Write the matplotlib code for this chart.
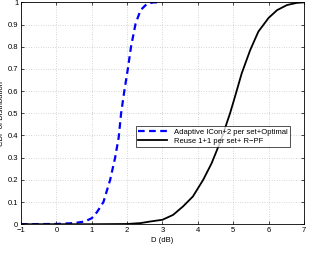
import numpy as np
import matplotlib.pyplot as plt

plt.rcParams['font.family'] = ['Liberation Sans', 'DejaVu Sans']

# CDF curves
adaptive_x = [-1, 0, 0.5, 0.8, 1.0, 1.15, 1.33, 1.52, 1.66, 1.76, 1.83, 1.92, 2.02, 2.11, 2.24, 2.38, 2.57, 2.75, 2.97]
adaptive_y = [0, 0.001, 0.005, 0.012, 0.027, 0.055, 0.10, 0.20, 0.30, 0.39, 0.50, 0.60, 0.70, 0.80, 0.905, 0.965, 0.995, 1.0, 1.0]

reuse_x = [-1, 1.0, 2.0, 2.38, 2.65, 3.0, 3.3, 3.58, 3.86, 4.15, 4.39, 4.58, 4.72, 4.91, 5.05, 5.24, 5.48, 5.71, 6.0, 6.24, 6.52, 6.8, 7.0]
reuse_y = [0, 0, 0.001, 0.005, 0.012, 0.02, 0.042, 0.08, 0.125, 0.2, 0.275, 0.35, 0.41, 0.5, 0.575, 0.68, 0.785, 0.868, 0.93, 0.965, 0.988, 0.998, 1.0]

labels = ['Adaptive ICon+2 per set+Optimal', 'Reuse 1+1 per set+ R\u2212PF']

fig = plt.figure(figsize=(3.14, 2.65), dpi=100)
ax = fig.add_axes([0.067, 0.154, 0.901, 0.837])

ax.plot(adaptive_x, adaptive_y, color='#0000ff', linestyle='--', linewidth=1.6, dashes=(3, 2), label=labels[0])
ax.plot(reuse_x, reuse_y, color='black', linewidth=1.3, label=labels[1])

ax.set_xlim(-1, 7)
ax.set_ylim(0, 1)
ax.set_xticks(np.arange(-1, 8, 1))
ax.set_yticks(np.arange(0, 1.01, 0.1))
ax.set_yticklabels(['0', '0.1', '0.2', '0.3', '0.4', '0.5', '0.6', '0.7', '0.8', '0.9', '1'])
ax.tick_params(direction='in', labelsize=5.5, length=2, width=0.5, top=True, right=True, pad=2)
ax.grid(True, linestyle=(0, (1, 2.5)), color='#b0b0b0', linewidth=0.5)
for s in ax.spines.values():
    s.set_linewidth(0.6)

ax.set_xlabel('D (dB)', fontsize=5.5, labelpad=2)
ax.set_ylabel('CDF of Distribution', fontsize=5.5, labelpad=2)

leg = ax.legend(loc='center', bbox_to_anchor=(0.678, 0.395), fontsize=5.5, frameon=True,
                fancybox=False, edgecolor='black', handlelength=3.8, handletextpad=0.8,
                borderpad=0.3, labelspacing=0.2, borderaxespad=0)
leg.get_frame().set_linewidth(0.6)

fig.savefig('out.png', dpi=100)
